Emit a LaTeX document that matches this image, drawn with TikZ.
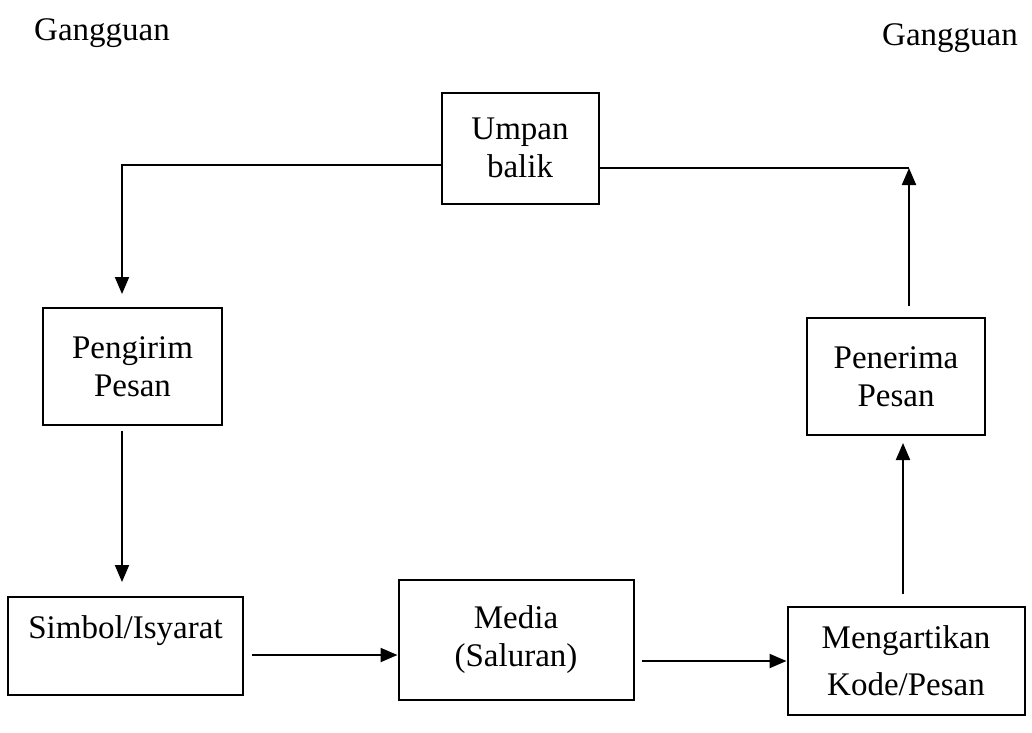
\documentclass[tikz,border=0pt]{standalone}
\usepackage{fontspec}
\setmainfont{Liberation Serif}
\usetikzlibrary{arrows.meta}
\begin{document}
\begin{tikzpicture}[x=1pt, y=-1pt,
		kotak/.style={draw, line width=2pt, align=center, inner sep=0pt, font=\fontsize{33}{38}\selectfont},
		label teks/.style={font=\fontsize{33}{38}\selectfont},
		panah/.style={line width=2pt, -{Triangle[length=17pt, width=14pt]}},
		garis/.style={line width=2pt}]
	\useasboundingbox (0,0) rectangle (1032,732);
	% kotak-kotak
	\node[kotak, minimum width=157pt, minimum height=111pt](umpan) at (520,148) {Umpan\\balik};
	\node[kotak, minimum width=179pt, minimum height=117pt](pengirim) at (132.5,366.5) {Pengirim\\Pesan};
	\node[kotak, minimum width=178pt, minimum height=117pt](penerima) at (896,376.5) {Penerima\\Pesan};
	\node[kotak, minimum width=235pt, minimum height=98pt](simbol) at (125.5,646) {Simbol/Isyarat\\ \mbox{}};
	\node[kotak, minimum width=235pt, minimum height=120pt](media) at (516,640) {Media\\(Saluran)};
	\node[kotak, minimum width=237pt, minimum height=108pt](mengartikan) at (906,661) {Mengartikan\\[9pt]Kode/Pesan};
	\node[label teks](gangguan1) at (102,33) {Gangguan};
	\node[label teks](gangguan2) at (950,38) {Gangguan};
	% titik belok
	\coordinate (kiri) at (122,165);
	\coordinate (kanan) at (909,168);
	% panah
	\draw[panah, shorten >=13pt] (umpan.west |- kiri) -- (kiri) -- (kiri |- pengirim.north);
	\draw[garis] (umpan.east |- kanan) -- (kanan);
	\draw[panah, shorten <=11pt] (kanan |- penerima.north) -- (kanan);
	\draw[panah, shorten <=5pt, shorten >=14pt] (kiri |- pengirim.south) -- (kiri |- simbol.north);
	\draw[panah, shorten <=8pt] ([yshift=-9pt]simbol.east) -- ([yshift=-9pt]simbol.east -| media.west);
	\draw[panah, shorten <=7pt] ([yshift=-21pt]media.east) -- ([yshift=-21pt]media.east -| mengartikan.west);
	\draw[panah, shorten <=12pt, shorten >=7pt] ([xshift=-3pt]mengartikan.north) -- ([xshift=-3pt]mengartikan.north |- penerima.south);
\end{tikzpicture}
\end{document}
